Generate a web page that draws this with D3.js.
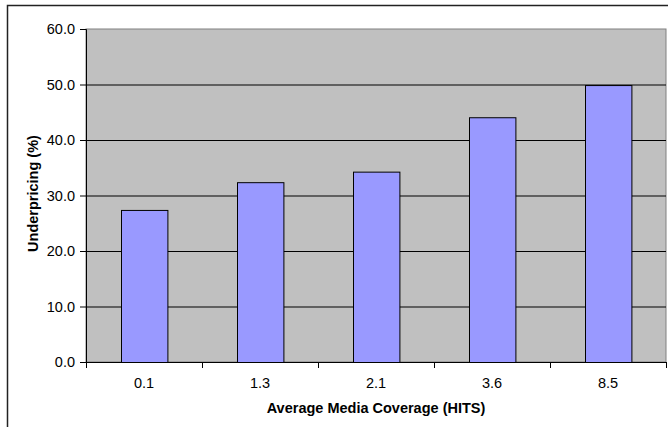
<!DOCTYPE html>
<html>
<head>
<meta charset="utf-8">
<script src="https://cdn.jsdelivr.net/npm/d3@7"></script>
<style>
  body { margin: 0; background: #fff; }
  svg { display: block; font-family: "Liberation Sans", Arial, sans-serif; }
</style>
</head>
<body>
<svg id="chart" width="668" height="427"></svg>
<script>
// values
const categories = ["0.1", "1.3", "2.1", "3.6", "8.5"];
const underpricing = [27.4, 32.4, 34.3, 44.1, 49.9];
const yTicks = [0, 10, 20, 30, 40, 50, 60];

const svg = d3.select("#chart");
const margin = {top: 29, right: 2, bottom: 65, left: 86};
const width = 668 - margin.left - margin.right;
const height = 427 - margin.top - margin.bottom;
const fontSize = 14.5;

// outer chart border (cropped on the right and bottom)
svg.append("path")
    .attr("d", "M7.5,440 L7.5,5.5 L700,5.5")
    .attr("fill", "none")
    .attr("stroke", "#222")
    .attr("stroke-width", 1.5);

const g = svg.append("g").attr("transform", `translate(${margin.left},${margin.top})`);

const x = d3.scaleBand().domain(categories).range([0, width]).paddingInner(0.6).paddingOuter(0.3);
const xOuter = d3.scaleBand().domain(categories).range([0, width]);
const y = d3.scaleLinear().domain([0, 60]).range([height, 0]);

// plot background
g.append("rect")
    .attr("width", width).attr("height", height)
    .attr("fill", "#c0c0c0")
    .attr("stroke", "#808080");

// gridlines
g.selectAll("line.grid").data(yTicks.filter(d => d > 0 && d < 60)).join("line")
    .classed("grid", true)
    .attr("x1", 0).attr("x2", width)
    .attr("y1", d => y(d) + 0.5).attr("y2", d => y(d) + 0.5)
    .attr("stroke", "#000");

// bars
g.selectAll("rect.bar").data(underpricing).join("rect")
    .classed("bar", true)
    .attr("x", (d, i) => Math.round(x(categories[i])) + 0.5)
    .attr("y", d => y(d) + 0.5)
    .attr("width", x.bandwidth())
    .attr("height", d => height - y(d))
    .attr("fill", "#9999ff")
    .attr("stroke", "#000");

// y axis
const yAxis = g.append("g")
    .call(d3.axisLeft(y).tickValues(yTicks).tickFormat(d3.format(".1f")).tickSize(6).tickPadding(5));
yAxis.select(".domain").attr("stroke", "#000");
yAxis.selectAll("text").attr("font-size", fontSize).attr("fill", "#000");

// x axis with ticks between categories
const xAxis = g.append("g").attr("transform", `translate(0,${height})`);
xAxis.append("line")
    .attr("x1", 0).attr("x2", width).attr("y1", 0.5).attr("y2", 0.5)
    .attr("stroke", "#000");
xAxis.selectAll("line.tick").data(d3.range(categories.length + 1)).join("line")
    .classed("tick", true)
    .attr("x1", i => i * xOuter.step() + 0.5).attr("x2", i => i * xOuter.step() + 0.5)
    .attr("y1", 0).attr("y2", 6)
    .attr("stroke", "#000");
xAxis.selectAll("text").data(categories).join("text")
    .attr("x", d => xOuter(d) + xOuter.bandwidth() / 2)
    .attr("y", 26)
    .attr("text-anchor", "middle")
    .attr("font-size", fontSize)
    .text(d => d);

// axis titles
svg.append("text")
    .attr("x", margin.left + width / 2)
    .attr("y", 413)
    .attr("text-anchor", "middle")
    .attr("font-size", fontSize)
    .attr("font-weight", "bold")
    .text("Average Media Coverage (HITS)");

svg.append("text")
    .attr("transform", `translate(38,${margin.top + height / 2 - 2}) rotate(-90)`)
    .attr("text-anchor", "middle")
    .attr("font-size", fontSize)
    .attr("font-weight", "bold")
    .text("Underpricing (%)");
</script>
</body>
</html>
